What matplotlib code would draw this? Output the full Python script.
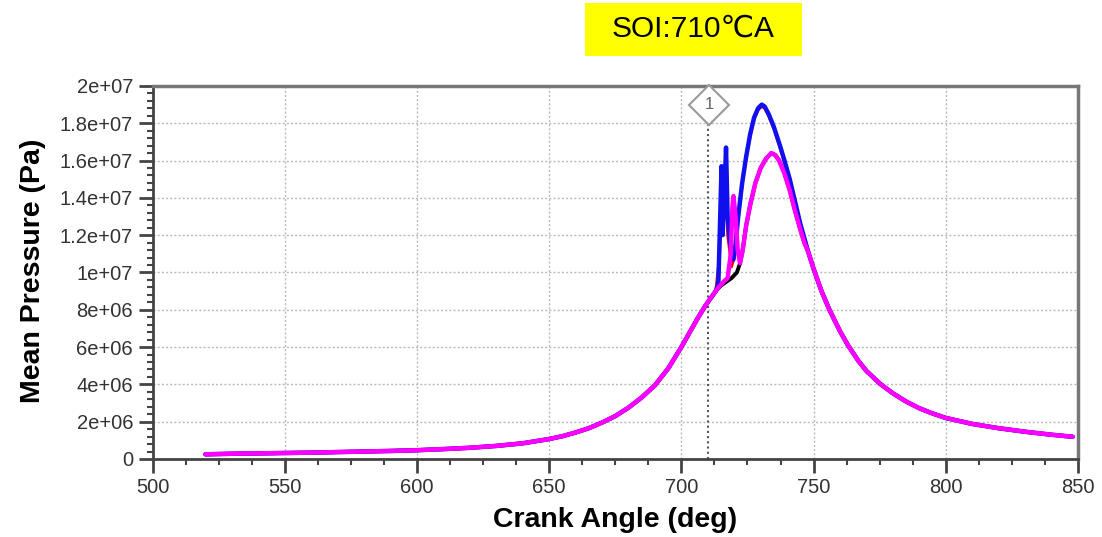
import matplotlib
matplotlib.use("Agg")
import matplotlib.pyplot as plt
from matplotlib.patches import Rectangle
from matplotlib.ticker import MultipleLocator, AutoMinorLocator

plt.rcParams['font.family'] = ['Liberation Sans', 'DejaVu Sans']

# ── data ─────────────────────────────────────────────────────────────────────

# shared compression part
base_ca = [520, 530, 540, 550, 560, 570, 580, 590, 600, 610, 620, 630, 640,
           650, 655, 660, 665, 670, 675, 680, 685, 690, 695, 700, 703, 706,
           709, 712, 713]
base_p  = [2.5e5, 2.8e5, 3.0e5, 3.2e5, 3.4e5, 3.7e5, 4.0e5, 4.3e5, 4.7e5,
           5.3e5, 6.0e5, 7.0e5, 8.4e5, 1.07e6, 1.22e6, 1.42e6, 1.65e6, 1.95e6,
           2.3e6, 2.75e6, 3.3e6, 3.95e6, 4.85e6, 6.0e6, 6.75e6, 7.5e6, 8.2e6,
           8.8e6, 9.0e6]

# shared expansion tail
tail_ca = [748, 750, 753, 756, 760, 763, 767, 770, 775, 780, 785, 790, 795,
           800, 810, 820, 830, 840, 848]
tail_p  = [1.11e7, 1.02e7, 9.0e6, 8.0e6, 6.85e6, 6.1e6, 5.25e6, 4.72e6, 4.05e6,
           3.52e6, 3.08e6, 2.72e6, 2.44e6, 2.2e6, 1.88e6, 1.65e6, 1.46e6,
           1.3e6, 1.19e6]

blue_ca = [714, 714.5, 715.2, 715.6, 716.2, 716.9, 717.5, 718.5, 719.7, 720.5,
           721.5, 723, 724.5, 726, 727.5, 729, 730.4, 731.5, 733, 735, 737.3,
           739, 741, 743, 745]
blue_p  = [9.4e6, 1.2e7, 1.57e7, 1.2e7, 1.4e7, 1.67e7, 1.3e7, 1.15e7, 1.07e7,
           1.15e7, 1.3e7, 1.48e7, 1.62e7, 1.74e7, 1.83e7, 1.88e7, 1.9e7,
           1.89e7, 1.85e7, 1.78e7, 1.68e7, 1.6e7, 1.5e7, 1.38e7, 1.26e7]

red_ca = [714.5, 715.5, 716.5, 717.5, 719, 720, 721.5, 723, 724.5, 726, 727.5,
          729, 730.4, 731.5, 733, 735, 737.3, 739, 741, 743, 745]
red_p  = [1.1e7, 1.45e7, 1.55e7, 1.2e7, 1.03e7, 1.08e7, 1.28e7, 1.47e7, 1.61e7,
          1.73e7, 1.82e7, 1.87e7, 1.89e7, 1.88e7, 1.84e7, 1.77e7, 1.67e7,
          1.59e7, 1.49e7, 1.37e7, 1.25e7]

mag_ca = [714, 716, 717.5, 718.7, 719.3, 719.7, 720.5, 721.3, 722.2, 723.2,
          724.5, 726, 728, 730, 732, 734, 735.5, 737, 739, 741, 743, 745, 746.5]
mag_p  = [9.2e6, 9.5e6, 9.7e6, 1.1e7, 1.35e7, 1.41e7, 1.3e7, 1.12e7, 1.05e7,
          1.12e7, 1.25e7, 1.36e7, 1.48e7, 1.56e7, 1.61e7, 1.64e7, 1.63e7,
          1.6e7, 1.53e7, 1.44e7, 1.33e7, 1.23e7, 1.16e7]

black_ca = [715, 717, 719, 721, 722.2, 723.2, 724.5, 726, 728, 730, 732, 734,
            735.5, 737, 739, 741, 743, 745, 746.5]
black_p  = [9.3e6, 9.5e6, 9.7e6, 1.0e7, 1.05e7, 1.12e7, 1.25e7, 1.36e7, 1.48e7,
            1.56e7, 1.61e7, 1.64e7, 1.63e7, 1.6e7, 1.53e7, 1.44e7, 1.33e7,
            1.23e7, 1.16e7]

soi = 710
title = "SOI:710\u2103A"

# ── figure ───────────────────────────────────────────────────────────────────

fig = plt.figure(figsize=(11.02, 5.37), dpi=100)
ax = fig.add_axes([0.1384, 0.1453, 0.8398, 0.6946])

series = [
    (black_ca, black_p, "black", 2.8),
    (red_ca, red_p, "red", 2.0),
    (blue_ca, blue_p, "#1010ee", 3.2),
    (mag_ca, mag_p, "#ff00ff", 3.2),
]
for ca, p, col, lw in series:
    ax.plot(base_ca + ca + tail_ca, base_p + p + tail_p, color=col, lw=lw,
            solid_capstyle="round", solid_joinstyle="round")

# SOI marker
ax.plot([soi, soi], [0, 1.8e7], color="#555555", lw=1.5, ls=(0, (1, 1.5)), zorder=1)
ax.plot([soi + 0.5], [1.9e7], marker="D", ms=20, mfc="white", mec="#999999",
        mew=1.5, clip_on=False, zorder=5)
ax.text(soi + 0.5, 1.9e7, "1", ha="center", va="center", fontsize=12,
        color="#666666", zorder=6)

ax.set_xlim(500, 850)
ax.set_ylim(0, 2e7)
ax.xaxis.set_major_locator(MultipleLocator(50))
ax.xaxis.set_minor_locator(AutoMinorLocator(4))
ax.yaxis.set_major_locator(MultipleLocator(2e6))
ax.yaxis.set_minor_locator(AutoMinorLocator(5))

yt = [0, 2e6, 4e6, 6e6, 8e6, 1e7, 1.2e7, 1.4e7, 1.6e7, 1.8e7, 2e7]
ax.set_yticks(yt)
ax.set_yticklabels(["0", "2e+06", "4e+06", "6e+06", "8e+06", "1e+07",
                    "1.2e+07", "1.4e+07", "1.6e+07", "1.8e+07", "2e+07"])

ax.grid(True, which="major", color="#bbbbbb", ls=(0, (1.5, 1.5)), lw=1)
ax.set_axisbelow(True)

for side in ("left", "bottom"):
    ax.spines[side].set_color("#444444")
    ax.spines[side].set_linewidth(2)
for side in ("top", "right"):
    ax.spines[side].set_color("#777777")
    ax.spines[side].set_linewidth(2.5)

ax.tick_params(which="major", direction="out", length=10, width=2, color="#444444",
               labelsize=14.5, labelcolor="#333333", pad=4)
ax.tick_params(which="minor", direction="out", length=4.5, width=1.5, color="#444444")

ax.set_xlabel("Crank Angle (deg)", fontsize=20.5, fontweight="bold")
ax.set_ylabel("Mean Pressure (Pa)", fontsize=20.5, fontweight="bold")
ax.xaxis.label.set_va("center")
ax.yaxis.label.set_va("center")
ax.xaxis.set_label_coords(0.5, -0.164)
ax.yaxis.set_label_coords(-0.129, 0.504)

# yellow title box
fig.add_artist(Rectangle((0.5309, 0.8957), 0.1969, 0.0987,
                         transform=fig.transFigure, fc="#ffff00", ec="none"))
fig.text(0.6293, 0.946, title, ha="center", va="center", fontsize=21.5)

fig.savefig("out.png", dpi=100)
